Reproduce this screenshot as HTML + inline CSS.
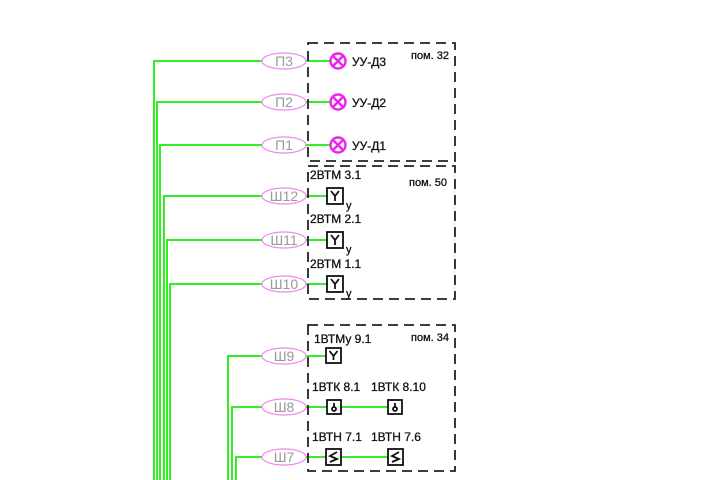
<!DOCTYPE html>
<html><head><meta charset="utf-8"><style>
html,body{margin:0;padding:0;background:#fff;}
svg{display:block;}
text{font-family:"Liberation Sans","DejaVu Sans",sans-serif;}
</style></head><body>
<svg width="720" height="480" viewBox="0 0 720 480" xmlns="http://www.w3.org/2000/svg">
<g stroke="#33ee22" stroke-width="2" fill="none">
<path d="M154 480V61H262M157 480V102H262M160 480V145H262M164 480V196H262M167 480V240H262M170 480V284H262"/>
<path d="M228 480V356H262M232 480V407H262M236 480V457H262"/>
<path d="M306 61H330M306 102H330M306 145H330M306 196H327M306 240H327M306 284H327"/>
<path d="M306 356H326M306 407H327M341 407H388M306 457H326M341 457H388"/>
</g>
<g fill="none" stroke="#ee88ee" stroke-width="1.2">
<ellipse cx="284" cy="61" rx="22" ry="8"/><ellipse cx="284" cy="102" rx="22" ry="8"/><ellipse cx="284" cy="145" rx="22" ry="8"/>
<ellipse cx="284" cy="196" rx="22" ry="8"/><ellipse cx="284" cy="240" rx="22" ry="8"/><ellipse cx="284" cy="284" rx="22" ry="8"/>
<ellipse cx="284" cy="356" rx="22" ry="8"/><ellipse cx="284" cy="407" rx="22" ry="8"/><ellipse cx="284" cy="457" rx="22" ry="8"/>
</g>
<g fill="#999" font-size="14" text-anchor="middle">
<text x="284" y="66">П3</text><text x="284" y="107">П2</text><text x="284" y="150">П1</text>
<text x="284" y="201">Ш12</text><text x="284" y="245">Ш11</text><text x="284" y="289">Ш10</text>
<text x="284" y="361">Ш9</text><text x="284" y="412">Ш8</text><text x="284" y="462">Ш7</text>
</g>
<g fill="none" stroke="#222" stroke-width="1.8" stroke-dasharray="10,6">
<rect x="308" y="43" width="147" height="118"/>
<rect x="308" y="166" width="147" height="133"/>
<rect x="308" y="325" width="147" height="146"/>
</g>
<g stroke="#ee22ee" stroke-width="2.4" fill="none">
<circle cx="338" cy="61" r="7.5"/><path d="M333 56L343 66M343 56L333 66"/>
<circle cx="338" cy="102" r="7.5"/><path d="M333 97L343 107M343 97L333 107"/>
<circle cx="338" cy="145" r="7.5"/><path d="M333 140L343 150M343 140L333 150"/>
</g>
<g fill="#111" font-size="12" stroke="#111" stroke-width="0.3">
<text x="352" y="66">УУ-Д3</text><text x="352" y="107">УУ-Д2</text><text x="352" y="150">УУ-Д1</text>
<text x="411" y="59" font-size="11">пом. 32</text>
<text x="409" y="186" font-size="11">пом. 50</text>
<text x="411" y="341" font-size="11">пом. 34</text>
<text x="310" y="179">2ВТМ 3.1</text><text x="310" y="223">2ВТМ 2.1</text><text x="310" y="268">2ВТМ 1.1</text>
<text x="314" y="343">1ВТМу 9.1</text>
<text x="312" y="391">1ВТК 8.1</text><text x="371" y="391">1ВТК 8.10</text>
<text x="312" y="441">1ВТН 7.1</text><text x="371" y="441">1ВТН 7.6</text>
<text x="346" y="209" font-size="11">у</text><text x="346" y="253" font-size="11">у</text><text x="346" y="297" font-size="11">у</text>
</g>
<g fill="none" stroke="#111" stroke-width="1.8">
<rect x="327" y="188" width="16" height="16"/><path d="M331 191L335 196L339 191M335 196V201"/>
<rect x="327" y="232" width="16" height="16"/><path d="M331 235L335 240L339 235M335 240V245"/>
<rect x="327" y="276" width="16" height="16"/><path d="M331 279L335 284L339 279M335 284V289"/>
<rect x="326" y="348" width="15" height="15"/><path d="M329.5 351L333.5 356L337.5 351M333.5 356V360"/>
<rect x="327" y="400" width="14" height="14"/><circle cx="334" cy="409" r="2"/><path d="M334 407V403"/>
<rect x="388" y="400" width="14" height="14"/><circle cx="395" cy="409" r="2"/><path d="M395 407V403"/>
<rect x="326" y="449" width="15" height="16"/><path d="M337 452L330 456L337 459L330 462"/>
<rect x="388" y="449" width="15" height="16"/><path d="M399 452L392 456L399 459L392 462"/>
</g>
</svg>
</body></html>
